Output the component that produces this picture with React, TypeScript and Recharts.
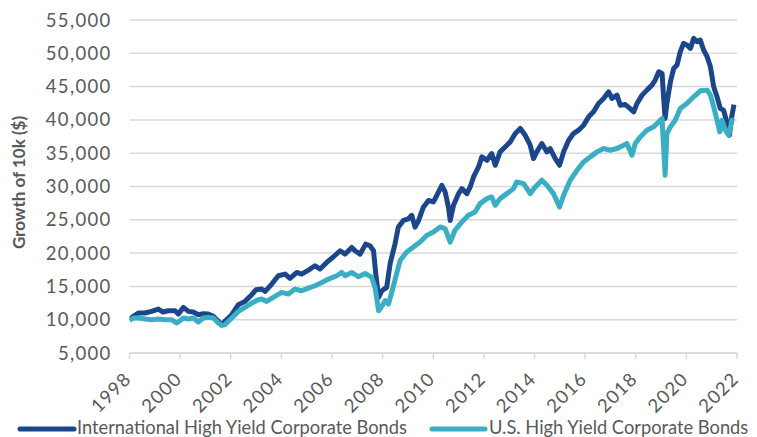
import React from 'react';
import { LineChart, Line, XAxis, YAxis, CartesianGrid, Legend } from 'recharts';

// International HY (dark navy)
const intlYears = [
  1998.0, 1998.15, 1998.35, 1998.61, 1998.87, 1999.14, 1999.33, 1999.53, 1999.8, 1999.93,
  2000.13, 2000.33, 2000.52, 2000.72, 2000.92, 2001.11, 2001.31, 2001.51, 2001.64, 2001.77,
  2002.04, 2002.3, 2002.56, 2002.83, 2003.0, 2003.22, 2003.36, 2003.62, 2003.88, 2004.15,
  2004.34, 2004.61, 2004.8, 2005.07, 2005.33, 2005.53, 2005.79, 2006.06, 2006.32, 2006.52,
  2006.78, 2006.91, 2007.11, 2007.33, 2007.5, 2007.64, 2007.73, 2007.84, 2007.97, 2008.16,
  2008.3, 2008.49, 2008.62, 2008.82, 2009.02, 2009.15, 2009.28, 2009.42, 2009.61, 2009.81,
  2010.01, 2010.14, 2010.34, 2010.47, 2010.6, 2010.67, 2010.8, 2011.0, 2011.13, 2011.33,
  2011.46, 2011.59, 2011.79, 2011.92, 2012.12, 2012.31, 2012.45, 2012.64, 2012.91, 2013.04,
  2013.24, 2013.44, 2013.63, 2013.83, 2013.96, 2014.09, 2014.29, 2014.49, 2014.62, 2014.82,
  2014.99, 2015.15, 2015.35, 2015.54, 2015.74, 2015.94, 2016.14, 2016.33, 2016.53, 2016.73,
  2016.93, 2017.06, 2017.26, 2017.39, 2017.59, 2017.78, 2017.92, 2018.05, 2018.25, 2018.44,
  2018.64, 2018.77, 2018.91, 2019.04, 2019.1, 2019.16, 2019.23, 2019.37, 2019.5, 2019.63,
  2019.76, 2019.89, 2020.02, 2020.16, 2020.29, 2020.42, 2020.55, 2020.68, 2020.82, 2020.95,
  2021.08, 2021.21, 2021.34, 2021.47, 2021.61, 2021.7, 2021.78, 2021.88,
];
const intlValues = [
  10000, 10500, 11000, 11000, 11250, 11600, 11150, 11350, 11350, 10850,
  11850, 11250, 11150, 10750, 10900, 10850, 10500, 9750, 9250, 9750,
  10750, 12250, 12750, 13750, 14500, 14600, 14250, 15350, 16600, 16850,
  16200, 17100, 16850, 17450, 18100, 17600, 18600, 19450, 20350, 19850,
  20850, 20350, 19850, 21350, 21100, 20350, 16850, 13350, 14350, 14850,
  18500, 21400, 23900, 24900, 25150, 25670, 23900, 24900, 26900, 27900,
  27680, 28680, 30180, 29180, 26900, 24900, 27180, 28930, 29680, 28930,
  29930, 31440, 32940, 34450, 33940, 34950, 33190, 35200, 36200, 36700,
  37950, 38710, 37700, 36200, 34200, 35200, 36450, 35200, 35700, 34200,
  33190, 35200, 36950, 37950, 38460, 39210, 40460, 41210, 42470, 43220,
  44220, 43220, 43720, 42200, 42300, 41700, 41210, 42470, 43720, 44470,
  45220, 45980, 47230, 46980, 43470, 40200, 42470, 45730, 47730, 48230,
  50240, 51490, 51240, 50740, 52240, 51740, 51990, 50490, 49490, 47980,
  44970, 43470, 41720, 41470, 39460, 37700, 40200, 42300,
];

// U.S. HY (teal)
const usYears = [
  1998.0, 1998.15, 1998.35, 1998.61, 1998.87, 1999.14, 1999.4, 1999.66, 1999.86, 1999.99,
  2000.13, 2000.33, 2000.52, 2000.72, 2000.92, 2001.11, 2001.31, 2001.51, 2001.64, 2001.77,
  2002.04, 2002.3, 2002.56, 2002.83, 2003.09, 2003.22, 2003.42, 2003.68, 2004.01, 2004.28,
  2004.54, 2004.8, 2005.07, 2005.33, 2005.6, 2005.86, 2006.19, 2006.39, 2006.52, 2006.78,
  2007.04, 2007.31, 2007.57, 2007.7, 2007.84, 2007.94, 2008.1, 2008.23, 2008.43, 2008.69,
  2008.95, 2009.22, 2009.48, 2009.74, 2010.01, 2010.27, 2010.47, 2010.67, 2010.86, 2011.13,
  2011.39, 2011.65, 2011.85, 2012.12, 2012.31, 2012.45, 2012.64, 2012.91, 2013.17, 2013.3,
  2013.57, 2013.83, 2014.03, 2014.29, 2014.49, 2014.75, 2014.99, 2015.15, 2015.41, 2015.68,
  2015.94, 2016.2, 2016.47, 2016.73, 2016.99, 2017.26, 2017.52, 2017.65, 2017.85, 2017.98,
  2018.18, 2018.44, 2018.71, 2018.97, 2019.04, 2019.1, 2019.16, 2019.23, 2019.37, 2019.56,
  2019.76, 2020.02, 2020.29, 2020.55, 2020.82, 2020.95, 2021.08, 2021.21, 2021.32, 2021.41,
  2021.54, 2021.67, 2021.8, 2021.88,
];
const usValues = [
  9900, 10250, 10250, 10100, 10000, 10100, 10000, 10000, 9500, 9850,
  10250, 10100, 10250, 9650, 10250, 10350, 10250, 9500, 9150, 9250,
  10250, 11250, 11850, 12500, 13000, 13100, 12750, 13350, 14100, 13850,
  14600, 14350, 14750, 15100, 15600, 16100, 16600, 17100, 16600, 17100,
  16450, 16950, 16350, 14850, 11350, 11850, 12850, 12350, 15100, 18900,
  20160, 20910, 21660, 22660, 23170, 23920, 23670, 21660, 23420, 24670,
  25670, 26170, 27430, 28180, 28430, 27180, 28180, 28930, 29680, 30690,
  30440, 28930, 29930, 30940, 30190, 28930, 26930, 28680, 30940, 32440,
  33690, 34450, 35200, 35700, 35450, 35700, 36200, 36450, 34700, 36450,
  37450, 38460, 38960, 39960, 40210, 35950, 31690, 37950, 38960, 39960,
  41720, 42470, 43470, 44370, 44470, 43720, 41970, 39960, 38210, 39960,
  38460, 37700, 39960, 39800,
];

const yearTicks = [1998, 2000, 2002, 2004, 2006, 2008, 2010, 2012, 2014, 2016, 2018, 2020, 2022];
const valueTicks = [5000, 10000, 15000, 20000, 25000, 30000, 35000, 40000, 45000, 50000, 55000];
const seriesNames = ['International High Yield Corporate Bonds', 'U.S. High Yield Corporate Bonds'];

const intlData = intlYears.map((year, i) => ({ year, value: intlValues[i] }));
const usData = usYears.map((year, i) => ({ year, value: usValues[i] }));

const NAVY = '#1b468b';
const TEAL = '#3aaec4';
const GREY = '#595959';
const FONT = 'Lato, "DejaVu Sans", sans-serif';

// rotated year labels, anchored just below the tick
const YearTick = (props: any) => {
  const { x, y, payload } = props;
  const ax = x + 3;
  const ay = y + 19;
  return (
    <text
      x={ax}
      y={ay}
      textAnchor="end"
      fill={GREY}
      fontSize={18.5}
      letterSpacing={1.2}
      fontFamily={FONT}
      transform={`rotate(-45, ${ax}, ${ay})`}
    >
      {payload.value}
    </text>
  );
};

const labelStyle: React.CSSProperties = {
  position: 'absolute',
  top: 3,
  height: 18,
  lineHeight: '18px',
  whiteSpace: 'nowrap',
};

const renderLegend = () => (
  <div style={{ position: 'relative', width: 757, height: 22, fontFamily: FONT, fontSize: 18.3, color: GREY }}>
    <svg width={60} height={22} style={{ position: 'absolute', left: 17, top: 0 }}>
      <line x1={3} y1={14} x2={57} y2={14} stroke={NAVY} strokeWidth={5} strokeLinecap="round" />
    </svg>
    <span style={{ ...labelStyle, left: 77 }}>{seriesNames[0]}</span>
    <svg width={60} height={22} style={{ position: 'absolute', left: 429, top: 0 }}>
      <line x1={3} y1={14} x2={56} y2={14} stroke={TEAL} strokeWidth={5} strokeLinecap="round" />
    </svg>
    <span style={{ ...labelStyle, left: 489 }}>{seriesNames[1]}</span>
  </div>
);

export default function App() {
  return (
    <div style={{ position: 'absolute', left: 0, top: 0, width: 757, height: 437, background: '#fff' }}>
      <LineChart width={757} height={437} margin={{ top: 20, right: 20, bottom: 34, left: 0 }}>
        <CartesianGrid vertical={false} stroke="#d9d9d9" strokeWidth={1.5} />
        <XAxis
          dataKey="year"
          type="number"
          domain={[1998, 2022]}
          ticks={yearTicks}
          allowDataOverflow
          height={50}
          stroke="#d9d9d9"
          strokeWidth={1.5}
          tickSize={6}
          tickMargin={2}
          tick={<YearTick />}
        />
        <YAxis
          type="number"
          domain={[5000, 55000]}
          ticks={valueTicks}
          width={129.5}
          axisLine={false}
          tickLine={false}
          tickSize={6}
          tickMargin={12}
          tick={{ fill: GREY, fontSize: 18.5, fontFamily: FONT, letterSpacing: 1.3 }}
          tickFormatter={(v: number) => v.toLocaleString('en-US')}
          label={(props: any) => {
            const vb = props.viewBox || { x: 0, y: 20, width: 129.5, height: 332 };
            const cx = vb.x + 18;
            const cy = vb.y + vb.height / 2 - 4;
            return (
              <text
                x={cx}
                y={cy}
                textAnchor="middle"
                dominantBaseline="central"
                fill={GREY}
                fontSize={17}
                fontWeight="bold"
                fontFamily={FONT}
                transform={`rotate(-90, ${cx}, ${cy})`}
              >
                Growth of 10k ($)
              </text>
            );
          }}
        />
        <Legend
          verticalAlign="middle"
          align="center"
          content={renderLegend}
          wrapperStyle={{ left: 0, top: 415, width: 757 }}
        />
        <Line
          data={intlData}
          dataKey="value"
          name={seriesNames[0]}
          type="linear"
          stroke={NAVY}
          strokeWidth={5}
          strokeLinejoin="round"
          dot={false}
          isAnimationActive={false}
        />
        <Line
          data={usData}
          dataKey="value"
          name={seriesNames[1]}
          type="linear"
          stroke={TEAL}
          strokeWidth={5}
          strokeLinejoin="round"
          dot={false}
          isAnimationActive={false}
        />
      </LineChart>
    </div>
  );
}
